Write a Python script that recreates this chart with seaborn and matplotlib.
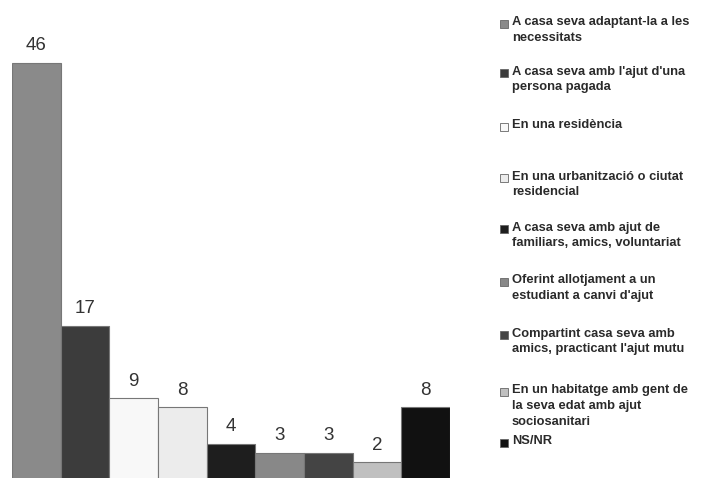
import matplotlib
matplotlib.use("Agg")
import matplotlib.pyplot as plt
import seaborn as sns
from matplotlib.patches import Rectangle

sns.set_style("white")
plt.rcParams['font.family'] = ['Liberation Sans', 'DejaVu Sans']

# dades
categories = [
    "A casa seva adaptant-la a les\nnecessitats",
    "A casa seva amb l'ajut d'una\npersona pagada",
    "En una residència",
    "En una urbanització o ciutat\nresidencial",
    "A casa seva amb ajut de\nfamiliars, amics, voluntariat",
    "Oferint allotjament a un\nestudiant a canvi d'ajut",
    "Compartint casa seva amb\namics, practicant l'ajut mutu",
    "En un habitatge amb gent de\nla seva edat amb ajut\nsociosanitari",
    "NS/NR",
]
values = [46, 17, 9, 8, 4, 3, 3, 2, 8]
colors = ["#8a8a8a", "#3c3c3c", "#f8f8f8", "#ececec", "#1e1e1e",
          "#888888", "#444444", "#c0c0c0", "#111111"]

W, H = 702, 478
fig = plt.figure(figsize=(W / 100, H / 100), dpi=100)

# eixos: barres de x=12 a x=450, base una mica per sota de la vora
ax = fig.add_axes([12 / W, -2 / H, 438 / W, 480 / H])
sns.barplot(x=categories, y=values, hue=categories, palette=colors,
            width=1.0, edgecolor="#777777", linewidth=0.8,
            legend=False, ax=ax)
ax.set_xlim(-0.5, len(values) - 0.5)
ax.set_ylim(0, 480 / 9.07)
ax.set_xticks([])
ax.set_yticks([])
ax.set_xlabel("")
ax.set_ylabel("")
for s in ax.spines.values():
    s.set_visible(False)

for cont in ax.containers:
    ax.bar_label(cont, fmt="%d", padding=6, fontsize=13.5, color="#333333")

# llegenda manual
line_y = [24, 73, 127, 178, 229, 282, 335, 392, 443]
for lab, col, yc in zip(categories, colors, line_y):
    fig.patches.append(Rectangle((500 / W, 1 - (yc + 4) / H), 8 / W, 8 / H,
                                 transform=fig.transFigure, facecolor=col,
                                 edgecolor="#666666", linewidth=0.6))
    fig.text(512 / W, 1 - (yc - 7.5) / H, lab, ha="left", va="top",
             fontsize=9.3, fontweight="bold", color="#2a2a2a", linespacing=1.4)

fig.savefig("out.png", dpi=100)
